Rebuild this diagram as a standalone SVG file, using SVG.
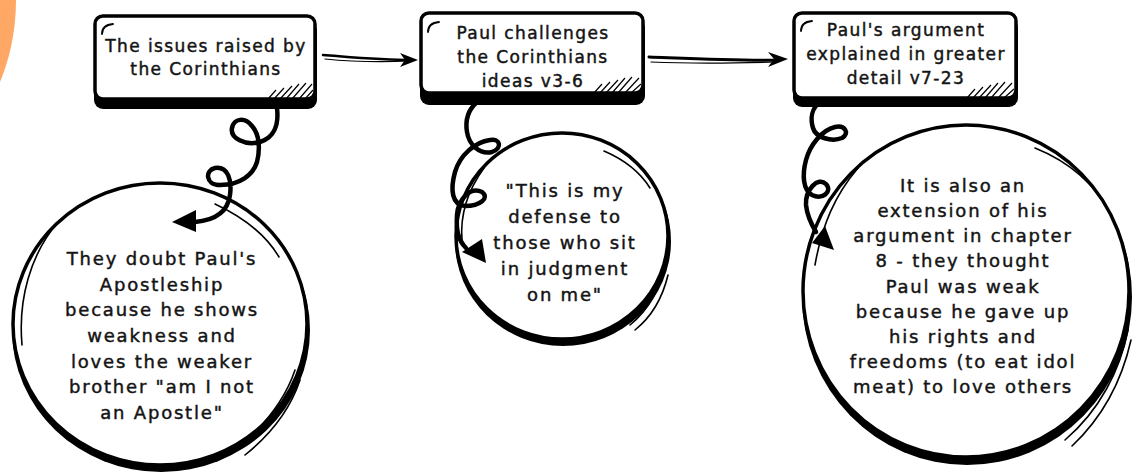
<svg xmlns="http://www.w3.org/2000/svg" width="1133" height="475" viewBox="0 0 1133 475">
<defs>
<style>
.bt{font-family:"DejaVu Sans","Liberation Sans",sans-serif;font-size:17px;letter-spacing:1.4px;fill:#141414;stroke:#141414;stroke-width:0.45;text-anchor:middle}
.ct{font-family:"DejaVu Sans","Liberation Sans",sans-serif;font-size:18px;letter-spacing:1.8px;fill:#141414;stroke:#141414;stroke-width:0.45;text-anchor:middle}
.box{fill:#fff;stroke:#000;stroke-width:3.5}
.shadow{fill:#000}
.hatch{stroke:#000;stroke-width:1.2;fill:none}
.corner{stroke:#000;stroke-width:1.8;fill:none;stroke-linecap:round}
.circ{fill:#fff;stroke:#000;stroke-width:3.5}
.sk{fill:none;stroke:#000;stroke-width:1.6;stroke-linecap:round}
.curl{fill:none;stroke:#000;stroke-width:4.5;stroke-linecap:round;stroke-linejoin:round}
.ln{fill:none;stroke:#000;stroke-linecap:round}
</style>
</defs>
<rect width="1133" height="475" fill="#fff"/>
<path d="M0,0 L16,0 C16,30 10,58 0,82 Z" fill="#FFA866"/>

<g id="box1">
<rect class="shadow" x="94" y="22" width="223" height="87" rx="9"/>
<rect class="box" x="95" y="16" width="220" height="83" rx="8"/>
<path class="hatch" d="M268,99 L276,90 M274,99 L284,88 M280,99 L292,86 M286,99 L299,84 M292,99 L306,83 M299,99 L312,84 M305,99 L313,90"/>
<path class="corner" d="M102,34 Q102,25 113,24"/>
<text class="bt" x="206" y="52">The issues raised by</text>
<text class="bt" x="206" y="75">the Corinthians</text>
</g>

<g id="box2">
<rect class="shadow" x="420" y="19" width="225" height="86" rx="9"/>
<rect class="box" x="421" y="13" width="222" height="80" rx="8"/>
<path class="hatch" d="M594,93 L602,84 M600,93 L610,82 M606,93 L618,80 M612,93 L625,78 M618,93 L632,77 M625,93 L639,78 M631,93 L641,84"/>
<path class="corner" d="M428,32 Q428,23 439,22"/>
<text class="bt" x="533" y="39">Paul challenges</text>
<text class="bt" x="533" y="63">the Corinthians</text>
<text class="bt" x="533" y="87">ideas v3-6</text>
</g>

<g id="box3">
<rect class="shadow" x="793" y="19" width="225" height="88" rx="9"/>
<rect class="box" x="794" y="13" width="222" height="85" rx="8"/>
<path class="hatch" d="M967,98 L975,89 M973,98 L983,87 M979,98 L991,85 M985,98 L998,83 M991,98 L1005,82 M998,98 L1012,83 M1004,98 L1014,89"/>
<path class="corner" d="M801,31 Q801,22 812,21"/>
<text class="bt" x="906" y="36">Paul's argument</text>
<text class="bt" x="906" y="60">explained in greater</text>
<text class="bt" x="906" y="84">detail v7-23</text>
</g>

<g id="circle1">
<ellipse class="shadow" cx="161" cy="330" rx="149" ry="142"/>
<ellipse class="circ" cx="160" cy="324" rx="147" ry="141"/>
<path class="sk" d="M215,204 C245,218 266,235 279,257"/>
<path class="sk" d="M58,222 C30,255 18,300 22,345"/>
<path class="sk" d="M295,370 C285,400 265,425 238,448"/>
<path class="sk" d="M300,380 C290,410 270,435 245,455"/>
<text class="ct" x="162" y="265">They doubt Paul's</text>
<text class="ct" x="162" y="291">Apostleship</text>
<text class="ct" x="162" y="316">because he shows</text>
<text class="ct" x="162" y="342">weakness and</text>
<text class="ct" x="162" y="368">loves the weaker</text>
<text class="ct" x="162" y="393">brother "am I not</text>
<text class="ct" x="162" y="419">an Apostle"</text>
</g>

<g id="circle2">
<ellipse class="shadow" cx="563" cy="241" rx="108" ry="105"/>
<ellipse class="circ" cx="562" cy="236" rx="106" ry="103"/>
<path class="sk" d="M604,151 C625,160 640,172 650,188"/>
<path class="sk" d="M484,168 C468,190 460,215 462,240"/>
<path class="sk" d="M665,265 C660,290 648,310 630,325"/>
<path class="sk" d="M668,275 C662,300 650,318 635,330"/>
<text class="ct" x="565" y="197">"This is my</text>
<text class="ct" x="565" y="223">defense to</text>
<text class="ct" x="565" y="249">those who sit</text>
<text class="ct" x="565" y="275">in judgment</text>
<text class="ct" x="565" y="301">on me"</text>
</g>

<g id="circle3">
<ellipse class="shadow" cx="967" cy="297" rx="165" ry="168"/>
<ellipse class="circ" cx="966" cy="291" rx="163" ry="166"/>
<path class="sk" d="M1035,148 C1070,162 1095,185 1108,210"/>
<path class="sk" d="M858,168 C835,195 822,225 815,265"/>
<path class="sk" d="M1128,330 C1120,370 1100,410 1065,440"/>
<path class="sk" d="M1131,340 C1122,380 1105,415 1072,446"/>
<text class="ct" x="963" y="192">It is also an</text>
<text class="ct" x="963" y="217">extension of his</text>
<text class="ct" x="963" y="242">argument in chapter</text>
<text class="ct" x="963" y="267">8 - they thought</text>
<text class="ct" x="963" y="293">Paul was weak</text>
<text class="ct" x="963" y="318">because he gave up</text>
<text class="ct" x="963" y="343">his rights and</text>
<text class="ct" x="963" y="368">freedoms (to eat idol</text>
<text class="ct" x="963" y="393">meat) to love others</text>
</g>

<g id="connectors">
<path class="ln" stroke-width="2.5" d="M323,55 C350,57 380,60 412,60"/>
<path class="ln" stroke-width="1.2" d="M325,59 C355,62 385,62 410,61"/>
<path d="M400,53 L418,60 L400,67 L405,60 Z" fill="#000"/>
<path class="ln" stroke-width="3" d="M649,57 C700,59 740,61 780,60"/>
<path class="ln" stroke-width="1.2" d="M651,62 C700,64 740,63 776,62"/>
<path d="M768,52 L788,59 L768,67 L774,59 Z" fill="#000"/>
<path class="curl" d="M277,108 C279,125 274,138 260,142 C245,146 230,138 232,128 C234,118 245,117 252,126 C260,135 260,150 257,162 C253,175 240,185 220,185 C205,185 205,170 215,168 C228,166 232,180 230,195 C228,210 218,220 195,222"/>
<path d="M172,222 L196,210 L196,232 Z" fill="#000"/>
<path class="curl" d="M477,102 C468,110 465,120 467,132 C469,145 480,155 492,152 C503,148 500,138 490,140 C475,142 460,155 455,172 C450,190 452,205 465,206 C480,206 490,198 482,192 C470,186 458,200 457,215 C456,230 458,240 466,248"/>
<path d="M486,263 L462,252 L482,239 Z" fill="#000"/>
<path class="curl" d="M820,102 C812,108 810,118 813,128 C816,138 832,142 842,138 C850,133 845,125 835,127 C822,130 810,145 806,160 C802,175 803,190 812,195 C822,200 833,192 826,184 C818,176 805,190 806,205 C807,215 810,222 816,232"/>
<path d="M825,226 L834,250 L812,243 Z" fill="#000"/>
</g>
</svg>
